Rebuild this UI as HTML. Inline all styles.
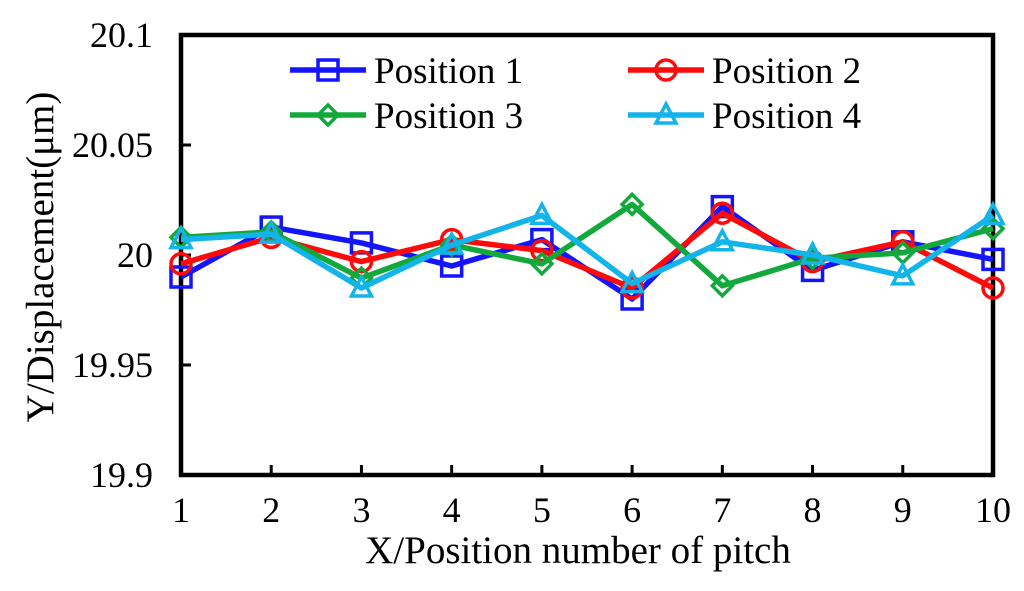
<!DOCTYPE html>
<html><head><meta charset="utf-8"><style>
body{margin:0;background:#fff}
svg{display:block;font-family:"Liberation Serif",serif}
</style></head><body>
<svg id="chart" width="1024" height="591" viewBox="0 0 1024 591"></svg>
<script>
const categories=[1,2,3,4,5,6,7,8,9,10];
const yTicks=[19.9,19.95,20,20.05,20.1];
const yTickLabels=["19.9","19.95","20","20.05","20.1"];
const pos1=[19.990,20.0127,20.0055,19.995,20.007,19.980,20.022,19.993,20.006,19.998];
const pos2=[19.996,20.008,19.997,20.007,20.002,19.985,20.019,19.997,20.006,19.985];
const pos3=[20.008,20.0105,19.9895,20.0045,19.996,20.023,19.986,19.9985,20.001,20.012];
const pos4=[20.007,20.0095,19.985,20.0045,20.018,19.987,20.006,20.0,19.9905,20.018];
const seriesNames=["Position 1","Position 2","Position 3","Position 4"];

const NS="http://www.w3.org/2000/svg";
const svg=document.getElementById('chart');
const L=181,R=993,T=35,B=475;
const xs=i=>L+(R-L)*(i-1)/9;
const ys=v=>B-(v-19.9)/0.2*(B-T);
function mk(tag,attrs,parent){const e=document.createElementNS(NS,tag);for(const k in attrs)e.setAttribute(k,attrs[k]);(parent||svg).appendChild(e);return e;}

const frame=mk('rect',{x:L,y:T,width:R-L,height:B-T,fill:'none',stroke:'#000','stroke-width':4.5});



yTicks.forEach((v,i)=>{
  const y=ys(v);
  const t=mk('line',{x1:L,x2:L+10,y1:y,y2:y,stroke:'#000','stroke-width':3});
  
  
  const tx=mk('text',{x:153,y:y+12,'text-anchor':'end','font-size':36});
  tx.textContent=yTickLabels[i];
  
  
});
categories.forEach(c=>{
  const x=xs(c);
  const t=mk('line',{x1:x,x2:x,y1:B,y2:B-10,stroke:'#000','stroke-width':3});
  
  
  const tx=mk('text',{x:x,y:522,'text-anchor':'middle','font-size':36});
  tx.textContent=c;
  
  
});
const xt=mk('text',{x:578,y:563,'text-anchor':'middle','font-size':39});
xt.textContent='X/Position number of pitch';


const yt=mk('text',{x:0,y:0,'text-anchor':'middle','font-size':39,transform:'translate(53,257) rotate(-90)'});
yt.textContent='Y/Displacement(μm)';



function marker(type,x,y,color,g){
  if(type==='square') return mk('rect',{x:x-10,y:y-10,width:20,height:20,fill:'none',stroke:color,'stroke-width':3.5},g);
  if(type==='circle') return mk('circle',{cx:x,cy:y,r:10,fill:'none',stroke:color,'stroke-width':3.5},g);
  if(type==='diamond') return mk('polygon',{points:`${x},${y-10} ${x+10},${y} ${x},${y+10} ${x-10},${y}`,fill:'none',stroke:color,'stroke-width':3.5},g);
  return mk('polygon',{points:`${x},${y-11} ${x+10},${y+8} ${x-10},${y+8}`,fill:'none',stroke:color,'stroke-width':3.5},g);
}
const series=[[pos1,'#1414ff','square'],[pos2,'#ff0a0a','circle'],[pos3,'#12a83c','diamond'],[pos4,'#13b4ea','triangle']];
series.forEach((s,si)=>{
  const g=mk('g',{});
  
  
  const pts=s[0].map((v,i)=>xs(categories[i])+','+ys(v)).join(' ');
  mk('polyline',{points:pts,fill:'none',stroke:s[1],'stroke-width':5.5,'stroke-linejoin':'round'},g);
  s[0].forEach((v,i)=>{
    const m=marker(s[2],xs(categories[i]),ys(v),s[1],g);
    
    
  });
  const lx=si%2===0?290:628, ly=si<2?70:115;
  const lg=mk('g',{});
  
  
  mk('line',{x1:lx,x2:lx+76,y1:ly,y2:ly,stroke:s[1],'stroke-width':5.5},lg);
  marker(s[2],lx+38,ly,s[1],lg);
  const lt=mk('text',{x:lx+84,y:ly+13,'font-size':37},lg);
  lt.textContent=seriesNames[si];
});
</script>
</body></html>
